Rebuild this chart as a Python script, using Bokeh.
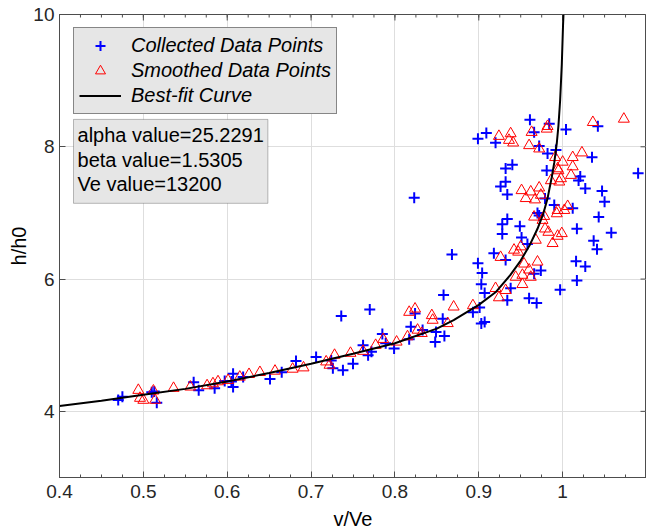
from bokeh.plotting import figure
from bokeh.models import Range1d, FixedTicker, Legend, LegendItem, BoxAnnotation, Label
from bokeh.embed import file_html
from bokeh.resources import INLINE

# ---------------- data ----------------
collected_x = [0.475, 0.470, 0.510, 0.513, 0.516, 0.560, 0.566, 0.585, 0.597, 0.607, 0.607, 0.605,
               0.619, 0.651, 0.665, 0.682, 0.706,
               0.724, 0.726, 0.738, 0.750, 0.736, 0.770, 0.762, 0.768, 0.772, 0.785, 0.789, 0.799,
               0.817, 0.819, 0.824, 0.833, 0.849, 0.848, 0.859, 0.858, 0.857, 0.893,
               0.899, 0.909, 0.920, 0.961, 0.966, 0.984, 0.972, 0.982, 0.992, 0.940, 0.932, 0.981,
               0.932, 0.926, 0.934, 0.979, 0.990, 0.970, 0.934,
               0.928, 0.928, 0.949, 0.951, 0.958, 0.918, 0.932, 0.899, 0.904, 0.903, 0.907, 0.938,
               0.934, 0.960, 0.969, 0.974, 0.966, 0.972, 0.901, 0.907, 0.903,
               1.004, 1.042, 1.035, 1.021, 1.019, 1.027, 1.047, 1.050, 1.090, 1.043, 1.012,
               1.017, 1.058, 1.037, 1.041, 1.016, 1.027, 1.017, 0.997,
               0.823, 0.868]
collected_y = [4.22, 4.17, 4.29, 4.30, 4.13, 4.44, 4.32, 4.35, 4.46, 4.57, 4.37, 4.45,
               4.52, 4.49, 4.59, 4.76, 4.82,
               4.77, 4.65, 4.62, 4.72, 5.44, 5.54, 5.00, 4.85, 4.90, 5.17, 5.03, 4.95,
               5.09, 5.28, 5.48, 5.23, 5.20, 5.05, 5.14, 5.76, 5.40, 5.50,
               8.12, 8.21, 8.06, 8.41, 8.22, 8.35, 8.01, 7.90, 7.95, 7.73, 7.67, 7.64,
               7.47, 7.40, 7.28, 7.22, 7.12, 7.00, 6.91,
               6.83, 6.68, 6.80, 6.63, 6.53, 6.39, 6.29, 6.24, 6.09, 5.92, 5.79, 5.86,
               5.68, 5.71, 5.64, 6.13, 6.08, 6.96, 5.57, 5.35, 5.33,
               8.26, 8.31, 7.84, 7.55, 7.49, 7.37, 7.33, 7.17, 7.60, 6.94, 7.07,
               6.76, 6.70, 6.58, 6.45, 6.27, 6.19, 5.98, 5.84,
               7.23, 6.37]

smoothed_x = [0.494, 0.496, 0.500, 0.512, 0.514, 0.536, 0.556, 0.576, 0.583, 0.589, 0.601, 0.615,
              0.626, 0.639, 0.657, 0.678, 0.691,
              0.718, 0.722, 0.728, 0.747, 0.762, 0.777, 0.786, 0.802, 0.815, 0.817, 0.824, 0.827,
              0.832, 0.844, 0.845, 0.863, 0.870, 0.893,
              0.924, 0.938, 0.936, 0.941, 0.963, 0.981, 0.982, 0.960, 0.972, 0.991, 0.994, 0.951,
              0.962, 0.972, 0.956, 0.967, 0.974, 0.986, 0.996, 0.966, 0.978, 0.994,
              0.976, 0.979, 0.983, 0.968, 0.988, 0.994, 0.950, 0.947, 0.942, 0.926, 0.954, 0.960,
              0.970, 0.944, 0.952, 0.962, 0.952, 0.920, 0.932, 0.924,
              1.036, 1.073, 1.023, 1.012, 1.000, 1.012, 0.995, 1.010, 0.998, 1.006, 0.993, 1.002,
              0.999]
smoothed_y = [4.32, 4.20, 4.17, 4.31, 4.17, 4.35, 4.37, 4.39, 4.42, 4.45, 4.47, 4.52,
              4.56, 4.59, 4.61, 4.64, 4.66,
              4.75, 4.70, 4.85, 4.88, 4.91, 5.00, 5.09, 5.05, 5.13, 5.50, 5.55, 5.23,
              5.18, 5.45, 5.38, 5.33, 5.58, 5.60,
              8.16, 8.20, 8.10, 8.06, 8.22, 8.27, 8.31, 8.02, 7.97, 7.84, 7.67, 7.34,
              7.32, 7.38, 7.22, 7.20, 7.27, 7.49, 7.47, 6.94, 6.95, 7.04,
              6.89, 6.76, 6.71, 6.59, 6.54, 6.65, 6.49, 6.41, 6.44, 6.33, 6.23, 6.14,
              6.26, 6.03, 6.06, 6.03, 5.92, 5.86, 5.83, 5.72,
              8.37, 8.42, 7.91, 7.84, 7.77, 7.70, 7.64, 7.57, 7.52, 7.10, 6.99, 7.04,
              6.69]

fit_x = [0.40, 0.45, 0.50, 0.55, 0.60, 0.65, 0.70, 0.75, 0.80, 0.85, 0.87, 0.90, 0.92,
         0.9375, 0.95, 0.961, 0.970, 0.977, 0.982, 0.987, 0.990, 0.993, 0.995, 0.997,
         0.999, 1.0005, 1.001]
fit_y = [4.08, 4.16, 4.25, 4.34, 4.45, 4.58, 4.72, 4.87, 5.03, 5.25, 5.38, 5.61, 5.80,
         6.06, 6.28, 6.52, 6.76, 6.99, 7.22, 7.54, 7.76, 8.05, 8.32, 8.70,
         9.25, 9.85, 10.0]

x_ticks = [0.4, 0.5, 0.6, 0.7, 0.8, 0.9, 1.0]
x_tick_labels = ["0.4", "0.5", "0.6", "0.7", "0.8", "0.9", "1"]
y_ticks = [4, 6, 8, 10]
y_tick_labels = ["4", "6", "8", "10"]

legend_labels = ["Collected Data Points", "Smoothed Data Points", "Best-fit Curve"]
fit_text = ["alpha value=25.2291", "beta value=1.5305", "Ve value=13200"]

# ---------------- figure ----------------
FONT = "Liberation Sans"
AX_COL = "#4d4d4d"
TXT_COL = "#262626"
X0, X1, Y0, Y1 = 0.4, 1.1, 3, 10

p = figure(width=646, height=532, x_range=Range1d(X0, X1), y_range=Range1d(Y0, Y1),
           output_backend="svg", toolbar_location=None,
           min_border_left=59, min_border_right=0, min_border_top=14, min_border_bottom=55,
           x_axis_label="v/Ve", y_axis_label="h/h0")
p.background_fill_color = "white"
p.border_fill_color = "white"
p.outline_line_color = AX_COL
p.outline_line_width = 1

x_minor = [round(X0 + 0.025 * i, 4) for i in range(29)]

def style_axis(ax, ticks, minor, labels):
    ax.ticker = FixedTicker(ticks=ticks, minor_ticks=minor)
    ax.major_label_overrides = {t: l for t, l in zip(ticks, labels)}
    ax.axis_line_color = AX_COL
    ax.major_tick_line_color = AX_COL
    ax.minor_tick_line_color = AX_COL
    ax.major_tick_in = 6
    ax.major_tick_out = 0
    ax.minor_tick_in = 3
    ax.minor_tick_out = 0
    ax.major_label_text_font = FONT
    ax.major_label_text_color = TXT_COL
    ax.major_label_text_font_size = "19px"
    ax.axis_label_text_font = FONT
    ax.axis_label_text_font_size = "20px"
    ax.axis_label_text_font_style = "normal"
    ax.axis_label_text_color = "#000000"

style_axis(p.xaxis[0], x_ticks, x_minor, x_tick_labels)
style_axis(p.yaxis[0], y_ticks, [], y_tick_labels)
p.xaxis[0].major_label_standoff = 7
p.xaxis[0].axis_label_standoff = 7
p.yaxis[0].major_label_standoff = 5
p.yaxis[0].axis_label_standoff = 0

p.xgrid.ticker = FixedTicker(ticks=x_ticks)
p.ygrid.ticker = FixedTicker(ticks=y_ticks)
p.xgrid.grid_line_color = "#dedede"
p.ygrid.grid_line_color = "#dedede"

# mirrored tick marks on top and right edges (clipped half-dashes)
p.scatter(x_ticks, [Y1] * len(x_ticks), marker="dash", angle=1.5708, size=12,
          line_color=AX_COL, line_width=1)
p.scatter(x_minor, [Y1] * len(x_minor), marker="dash", angle=1.5708, size=6,
          line_color=AX_COL, line_width=1)
p.scatter([X1] * len(y_ticks), y_ticks, marker="dash", size=12,
          line_color=AX_COL, line_width=1)

r_col = p.scatter(collected_x, collected_y, marker="cross", size=11,
                  line_color="#0000ff", line_width=2)
r_smo = p.scatter(smoothed_x, smoothed_y, marker="triangle", size=11,
                  line_color="#ff0000", fill_color=None, line_width=1)
r_fit = p.line(fit_x, fit_y, line_color="#000000", line_width=2)

legend = Legend(items=[LegendItem(label=legend_labels[0], renderers=[r_col]),
                       LegendItem(label=legend_labels[1], renderers=[r_smo]),
                       LegendItem(label=legend_labels[2], renderers=[r_fit])],
                location=(14, 363))
legend.label_text_font = FONT
legend.label_text_font_style = "italic"
legend.label_text_font_size = "20px"
legend.label_text_color = "#000000"
legend.background_fill_color = "#e6e6e6"
legend.background_fill_alpha = 1
legend.border_line_color = "#262626"
legend.border_line_width = 1
legend.glyph_width = 42
legend.glyph_height = 25
legend.label_height = 25
legend.label_standoff = 10
legend.spacing = 0
legend.padding = 5
legend.margin = 0
p.add_layout(legend)

box = BoxAnnotation(left=0.4167, right=0.6485, top=8.414, bottom=7.145,
                    fill_color="#e6e6e6", fill_alpha=1,
                    line_color="#262626", line_width=1, level="annotation")
p.add_layout(box)
for txt, yy in zip(fit_text, [8.172, 7.795, 7.432]):
    p.add_layout(Label(x=0.4215, y=yy, text=txt, text_baseline="middle", text_align="left",
                       text_font=FONT, text_font_size="20px", text_color="#000000",
                       level="annotation"))

open("out.html", "w").write(file_html(p, INLINE))
